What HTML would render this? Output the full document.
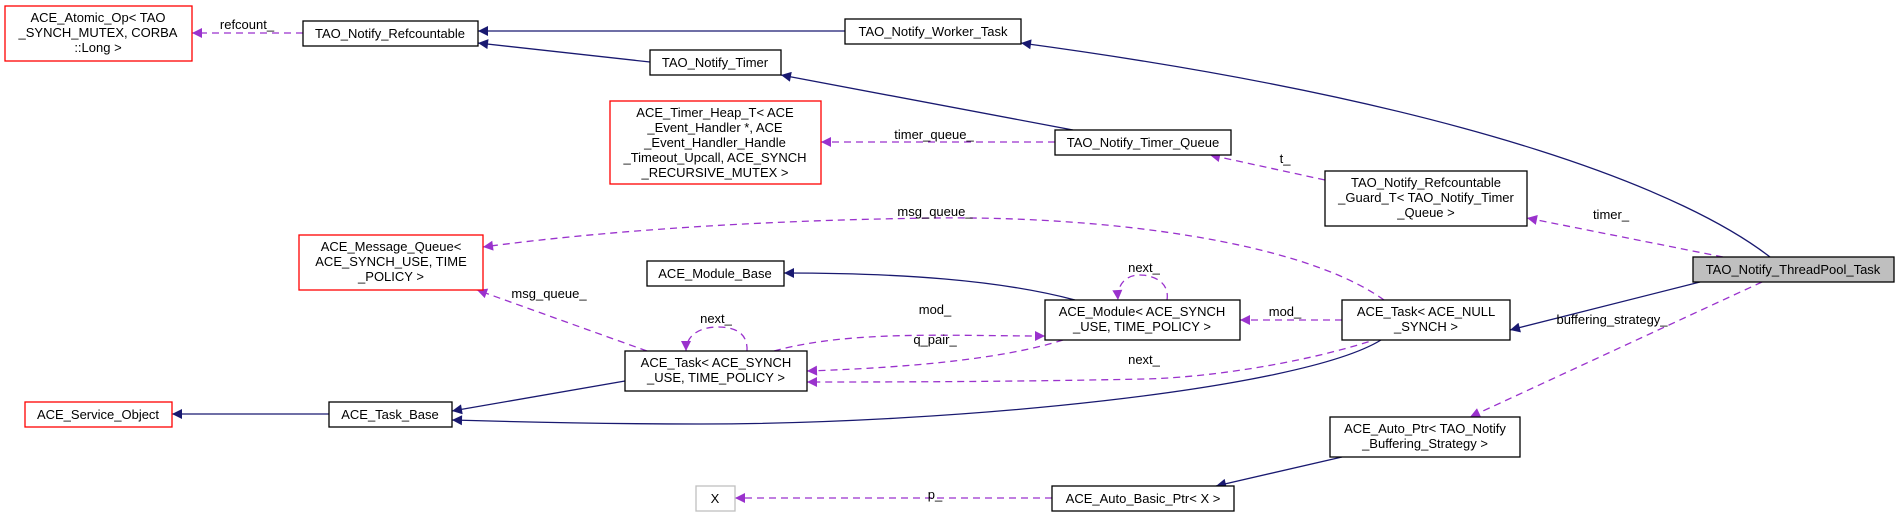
<!DOCTYPE html>
<html><head><meta charset="utf-8"><style>
html,body{margin:0;padding:0;background:#fff;}
svg{display:block;}
text{font-family:"Liberation Sans",sans-serif;font-size:13px;fill:#000;}
</style></head><body>
<svg width="1896" height="517" viewBox="0 0 1896 517" xmlns="http://www.w3.org/2000/svg">
<defs>
<marker id="n" viewBox="0 0 10 10" refX="10" refY="5" markerWidth="12" markerHeight="10" markerUnits="userSpaceOnUse" orient="auto"><path d="M0,0L10,5L0,10z" fill="#191970"/></marker>
<marker id="p" viewBox="0 0 10 10" refX="10" refY="5" markerWidth="12" markerHeight="10" markerUnits="userSpaceOnUse" orient="auto"><path d="M0,0L10,5L0,10z" fill="#9a32cd"/></marker>
</defs>
<g fill="none" stroke="#191970" stroke-width="1.3">
<path d="M845,31 L478,31" marker-end="url(#n)"/>
<path d="M650,62 L478,43" marker-end="url(#n)"/>
<path d="M1770,257 C1690,195 1480,105 1021,43" marker-end="url(#n)"/>
<path d="M1073,130 L781,75" marker-end="url(#n)"/>
<path d="M1700,282 L1510,330" marker-end="url(#n)"/>
<path d="M1075,300 C1000,280 900,273 784,273" marker-end="url(#n)"/>
<path d="M625,381 L452,411" marker-end="url(#n)"/>
<path d="M1381,340 C1300,390 950,424 700,424 C600,424 520,422 452,420" marker-end="url(#n)"/>
<path d="M329,414 L172,414" marker-end="url(#n)"/>
<path d="M1342,457 L1216,486" marker-end="url(#n)"/>
</g>
<g fill="none" stroke="#9a32cd" stroke-width="1.3" stroke-dasharray="7,5">
<path d="M303,33 L192,33" marker-end="url(#p)"/>
<path d="M1055,142 L821,142" marker-end="url(#p)"/>
<path d="M1325,180 L1210,155" marker-end="url(#p)"/>
<path d="M1723,257 L1527,218" marker-end="url(#p)"/>
<path d="M1384,300 C1300,240 1100,216 935,218 C700,221 550,238 483,247" marker-end="url(#p)"/>
<path d="M647,351 L477,290" marker-end="url(#p)"/>
<path d="M1342,320 L1240,320" marker-end="url(#p)"/>
<path d="M1063,340 C1000,360 900,368 807,371" marker-end="url(#p)"/>
<path d="M774,351 C850,330 950,336 1045,336" marker-end="url(#p)"/>
<path d="M1380,338 C1300,365 1200,378 1144,379 C1000,382 880,382 807,382" marker-end="url(#p)"/>
<path d="M1167,300 C1170,280 1150,275 1140,275 C1125,275 1117,285 1118,300" marker-end="url(#p)"/>
<path d="M747,351 C748,333 735,327 718,327 C700,327 686,335 686,351" marker-end="url(#p)"/>
<path d="M1762,282 L1470,417" marker-end="url(#p)"/>
<path d="M1052,498 L735,498" marker-end="url(#p)"/>
</g>
<g stroke-width="1.3">
<rect x="5" y="6" width="187" height="55" fill="#fff" stroke="#ff0000"/>
<rect x="303" y="21" width="175" height="25" fill="#fff" stroke="#000"/>
<rect x="845" y="19" width="176" height="25" fill="#fff" stroke="#000"/>
<rect x="650" y="50" width="131" height="25" fill="#fff" stroke="#000"/>
<rect x="610" y="101" width="211" height="83" fill="#fff" stroke="#ff0000"/>
<rect x="1055" y="130" width="176" height="25" fill="#fff" stroke="#000"/>
<rect x="1325" y="171" width="202" height="55" fill="#fff" stroke="#000"/>
<rect x="1693" y="257" width="201" height="25" fill="#bfbfbf" stroke="#000"/>
<rect x="299" y="235" width="184" height="55" fill="#fff" stroke="#ff0000"/>
<rect x="647" y="261" width="137" height="25" fill="#fff" stroke="#000"/>
<rect x="1045" y="300" width="195" height="40" fill="#fff" stroke="#000"/>
<rect x="1342" y="300" width="168" height="40" fill="#fff" stroke="#000"/>
<rect x="625" y="351" width="182" height="40" fill="#fff" stroke="#000"/>
<rect x="25" y="402" width="147" height="25" fill="#fff" stroke="#ff0000"/>
<rect x="329" y="402" width="123" height="25" fill="#fff" stroke="#000"/>
<rect x="1330" y="417" width="190" height="40" fill="#fff" stroke="#000"/>
<rect x="696" y="486" width="39" height="25" fill="#fff" stroke="#bfbfbf"/>
<rect x="1052" y="486" width="182" height="25" fill="#fff" stroke="#000"/>
</g>
<g text-anchor="middle">
<text x="98" y="22">ACE_Atomic_Op&lt; TAO</text>
<text x="98" y="37">_SYNCH_MUTEX, CORBA</text>
<text x="98" y="52">::Long &gt;</text>
<text x="390" y="38">TAO_Notify_Refcountable</text>
<text x="933" y="36">TAO_Notify_Worker_Task</text>
<text x="715" y="67">TAO_Notify_Timer</text>
<text x="715" y="117">ACE_Timer_Heap_T&lt; ACE</text>
<text x="715" y="132">_Event_Handler *, ACE</text>
<text x="715" y="147">_Event_Handler_Handle</text>
<text x="715" y="162">_Timeout_Upcall, ACE_SYNCH</text>
<text x="715" y="177">_RECURSIVE_MUTEX &gt;</text>
<text x="1143" y="147">TAO_Notify_Timer_Queue</text>
<text x="1426" y="187">TAO_Notify_Refcountable</text>
<text x="1426" y="202">_Guard_T&lt; TAO_Notify_Timer</text>
<text x="1426" y="217">_Queue &gt;</text>
<text x="1793" y="274">TAO_Notify_ThreadPool_Task</text>
<text x="391" y="251">ACE_Message_Queue&lt;</text>
<text x="391" y="266">ACE_SYNCH_USE, TIME</text>
<text x="391" y="281">_POLICY &gt;</text>
<text x="715" y="278">ACE_Module_Base</text>
<text x="1142" y="316">ACE_Module&lt; ACE_SYNCH</text>
<text x="1142" y="331">_USE, TIME_POLICY &gt;</text>
<text x="1426" y="316">ACE_Task&lt; ACE_NULL</text>
<text x="1426" y="331">_SYNCH &gt;</text>
<text x="716" y="367">ACE_Task&lt; ACE_SYNCH</text>
<text x="716" y="382">_USE, TIME_POLICY &gt;</text>
<text x="98" y="419">ACE_Service_Object</text>
<text x="390" y="419">ACE_Task_Base</text>
<text x="1425" y="433">ACE_Auto_Ptr&lt; TAO_Notify</text>
<text x="1425" y="448">_Buffering_Strategy &gt;</text>
<text x="715" y="503">X</text>
<text x="1143" y="503">ACE_Auto_Basic_Ptr&lt; X &gt;</text>
<text x="247" y="29">refcount_</text>
<text x="934" y="139">timer_queue_</text>
<text x="1285" y="163">t_</text>
<text x="1611" y="219">timer_</text>
<text x="935" y="216">msg_queue_</text>
<text x="549" y="298">msg_queue_</text>
<text x="1144" y="272">next_</text>
<text x="716" y="323">next_</text>
<text x="935" y="314">mod_</text>
<text x="935" y="344">q_pair_</text>
<text x="1144" y="364">next_</text>
<text x="1285" y="316">mod_</text>
<text x="1612" y="324">buffering_strategy_</text>
<text x="935" y="499">p_</text>
</g>
</svg>
</body></html>
